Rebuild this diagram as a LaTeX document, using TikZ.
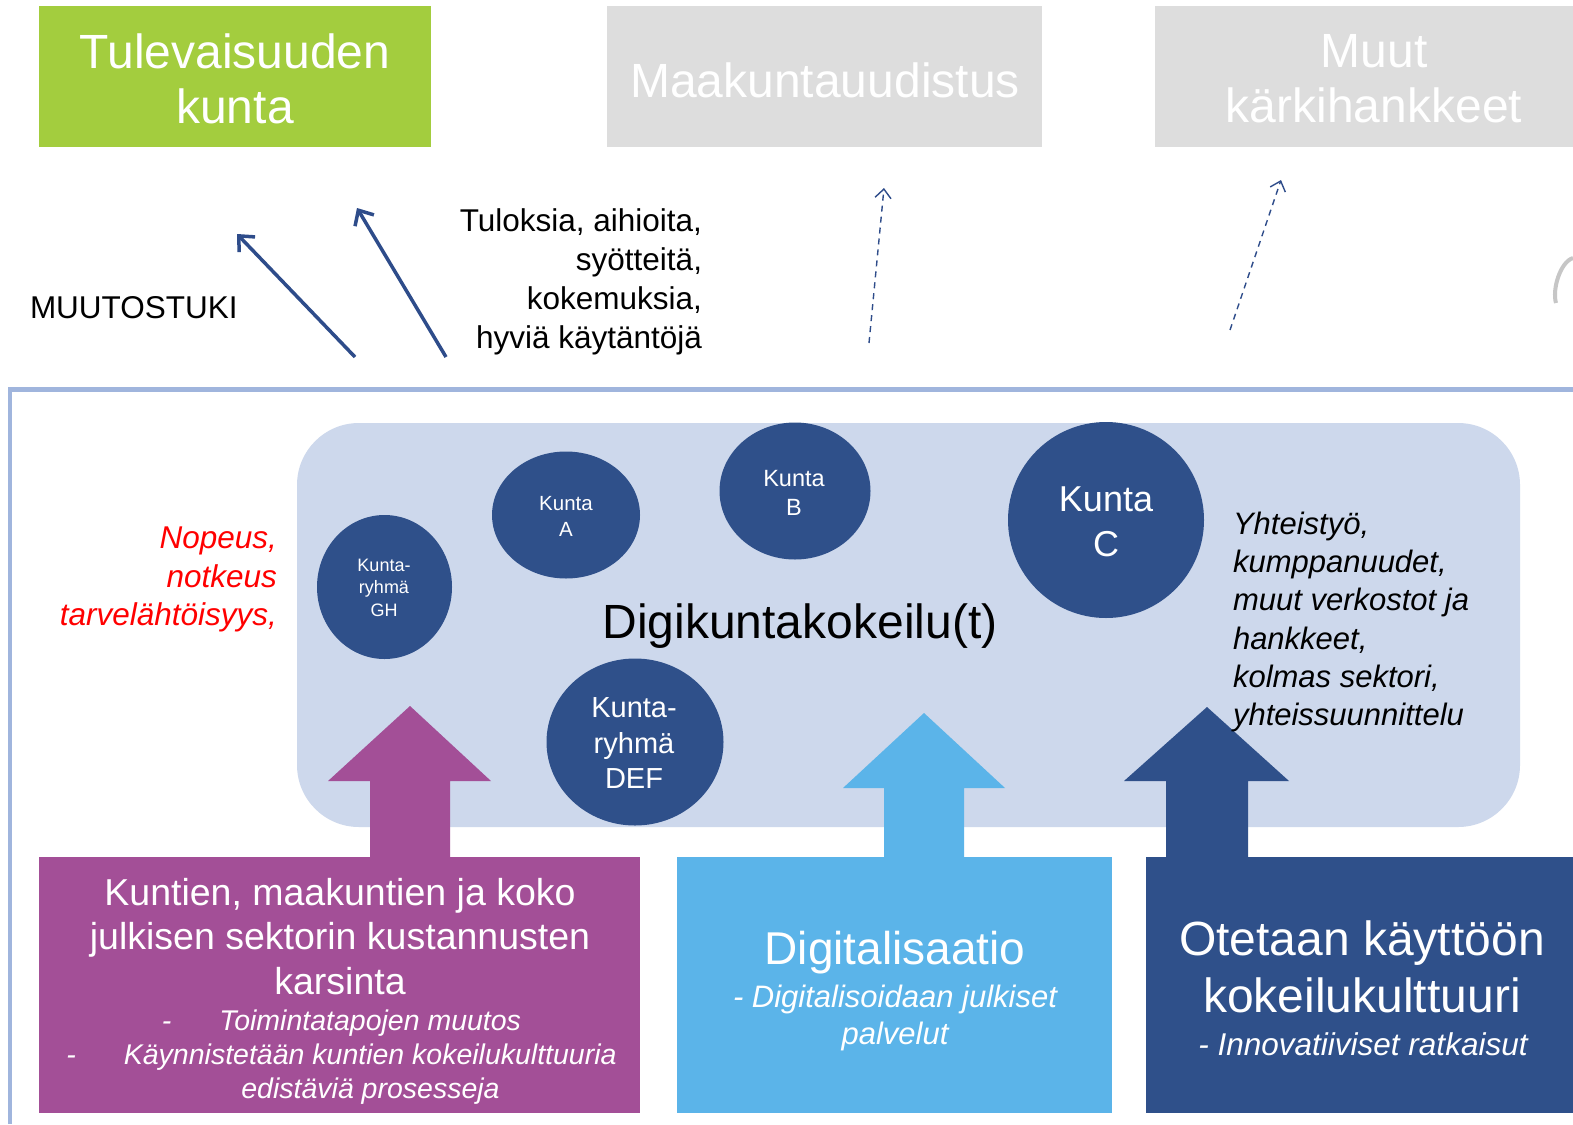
\documentclass[tikz,border=0pt]{standalone}
\usepackage{fontspec}
\setmainfont{Liberation Sans}
\usetikzlibrary{arrows.meta,shapes.geometric}
\definecolor{cgreen}{HTML}{A3CD3E}
\definecolor{cgray}{HTML}{DDDDDD}
\definecolor{cpurple}{HTML}{A34F97}
\definecolor{clight}{HTML}{5BB4E9}
\definecolor{cdark}{HTML}{2F508A}
\definecolor{cpanel}{HTML}{CDD8EC}
\definecolor{cframe}{HTML}{A0B5DD}
\definecolor{carrow}{HTML}{2E4C8A}
\newcommand{\fsz}[2]{\fontsize{#1}{#2}\selectfont}
\tikzset{
  txt/.style={inner sep=0pt, outer sep=0pt},
  wtxt/.style={txt, text=white},
  circ/.style={ellipse, fill=cdark, draw=none, inner sep=0pt},
  solidarr/.style={draw=carrow, line width=1.75pt, -{Straight Barb[length=6pt,width=11pt,line width=1.75pt]}},
  dasharr/.style={draw=carrow, line width=0.7pt, dash pattern=on 3pt off 2.5pt, -{Straight Barb[length=4.5pt,width=8pt,line width=0.7pt]}},
}
\begin{document}
\begin{tikzpicture}[x=0.5pt,y=-0.5pt]
\useasboundingbox (0,0) rectangle (1573,1124);
\fill[white] (0,0) rectangle (1573,1124);

% top boxes
\fill[cgreen] (39,6) rectangle (431,147);
\fill[cgray] (607,6) rectangle (1042,147);
\fill[cgray] (1155,6) rectangle (1573,147);
\node[wtxt, anchor=north, align=center, font=\fsz{24}{27.5}] (tul) at (235,34) {Tulevaisuuden\\kunta};
\node[wtxt, anchor=base, font=\fsz{24}{27.5}] (maak) at (825,97) {Maakuntauudistus};
\node[wtxt, anchor=north, align=center, font=\fsz{24}{27.5}] (muut) at (1374,34) {Muut\\kärkihankkeet};

% partial gray glyph at right edge
\draw[gray!45, line width=2pt] (1573,258) .. controls (1560,262) and (1552,290) .. (1556,303);

% frame
\draw[cframe, line width=2.25pt] (10,1124) -- (10,389.5) -- (1573,389.5);

% panel
\fill[cpanel, rounded corners=31pt] (297,423) rectangle (1520,827);

% labels above
\node[txt, anchor=base west, font=\fsz{15.75}{19.5}] (muutos) at (30,318) {MUUTOSTUKI};
\node[txt, anchor=north east, align=right, font=\fsz{15.75}{19.5}] (tulos) at (702,209) {Tuloksia, aihioita,\\syötteitä,\\kokemuksia,\\hyviä käytäntöjä};

% arrows
\coordinate (a1s) at (355,357); \coordinate (a1e) at (237,234);
\coordinate (a2s) at (446,357); \coordinate (a2e) at (357,208);
\coordinate (d1s) at (869,343); \coordinate (d1e) at (884,188);
\coordinate (d2s) at (1230,330); \coordinate (d2e) at (1281,180);
\draw[solidarr] (a1s) -- (a1e);
\draw[solidarr] (a2s) -- (a2e);
\draw[dasharr] (d1s) -- (d1e);
\draw[dasharr] (d2s) -- (d2e);

% circles
\node[circ, minimum width=67.5pt, minimum height=72pt] (gh) at (384.5,587) {};
\node[circ, minimum width=74pt, minimum height=63.5pt] (ka) at (566,515) {};
\node[circ, minimum width=75.5pt, minimum height=68.5pt] (kb) at (795,491) {};
\node[circ, minimum width=98pt, minimum height=98pt] (kc) at (1106,520) {};
\node[circ, minimum width=88.5pt, minimum height=83.5pt] (def) at (635,742) {};
\node[wtxt, anchor=north, align=center, font=\fsz{9}{11.25}] (ghl) at (384,559) {Kunta-\\ryhmä\\GH};
\node[wtxt, anchor=north, align=center, font=\fsz{10.25}{13}] (kal) at (566,496) {Kunta\\A};
\node[wtxt, anchor=north, align=center, font=\fsz{11.75}{14.5}] (kbl) at (794,470) {Kunta\\B};
\node[wtxt, anchor=north, align=center, font=\fsz{18}{22.5}] (kcl) at (1106,487) {Kunta\\C};
\node[wtxt, anchor=north, align=center, font=\fsz{14.5}{17.75}] (defl) at (634,698) {Kunta-\\ryhmä\\DEF};

\node[txt, anchor=base, font=\fsz{24}{27.5}] (digi) at (800,638) {Digikuntakokeilu(t)};

% block arrows
\fill[cpurple] (410,706) -- (491,781) -- (450,781) -- (450,858) -- (370,858) -- (370,781) -- (328,781) -- cycle;
\fill[clight] (924,713) -- (1005,788) -- (964,788) -- (964,858) -- (884,858) -- (884,788) -- (843,788) -- cycle;
\fill[cdark] (1207,707) -- (1289,781) -- (1248,781) -- (1248,858) -- (1166,858) -- (1166,781) -- (1124,781) -- cycle;

% side texts
\node[txt, anchor=north east, align=right, text=red, font=\fsz{15.75}{19.25}\itshape] (red) at (277,527) {Nopeus,\\notkeus\\tarvelähtöisyys,};
\node[txt, anchor=north west, align=left, font=\fsz{15.5}{19.1}\itshape] (yht) at (1233,512) {Yhteistyö,\\kumppanuudet,\\muut verkostot ja\\hankkeet,\\kolmas sektori,\\yhteissuunnittelu};

% bottom boxes
\fill[cpurple] (39,857) rectangle (640,1113);
\fill[clight] (677,857) rectangle (1112,1113);
\fill[cdark] (1146,857) rectangle (1573,1113);

\node[wtxt, anchor=north, align=center, font=\fsz{18.75}{22.25}] (pb) at (340,878) {Kuntien, maakuntien ja koko\\julkisen sektorin kustannusten\\karsinta};
\node[wtxt, anchor=north, align=center, font=\fsz{14.25}{17}\itshape] (pi) at (341.5,1010) {-\hspace{24pt}Toimintatapojen muutos\\-\hspace{24pt}Käynnistetään kuntien kokeilukulttuuria\\\hspace*{29pt}edistäviä prosesseja};

\node[wtxt, anchor=base, font=\fsz{23}{27}] (lb) at (895,964) {Digitalisaatio};
\node[wtxt, anchor=north, align=center, font=\fsz{15.5}{18.5}\itshape] (li) at (895,985) {- Digitalisoidaan julkiset\\palvelut};

\node[wtxt, anchor=north, align=center, font=\fsz{24}{28.5}] (db) at (1362,921) {Otetaan käyttöön\\kokeilukulttuuri};
\node[wtxt, anchor=base, font=\fsz{15.75}{19}\itshape] (di) at (1363,1055) {- Innovatiiviset ratkaisut};
\end{tikzpicture}
\end{document}
